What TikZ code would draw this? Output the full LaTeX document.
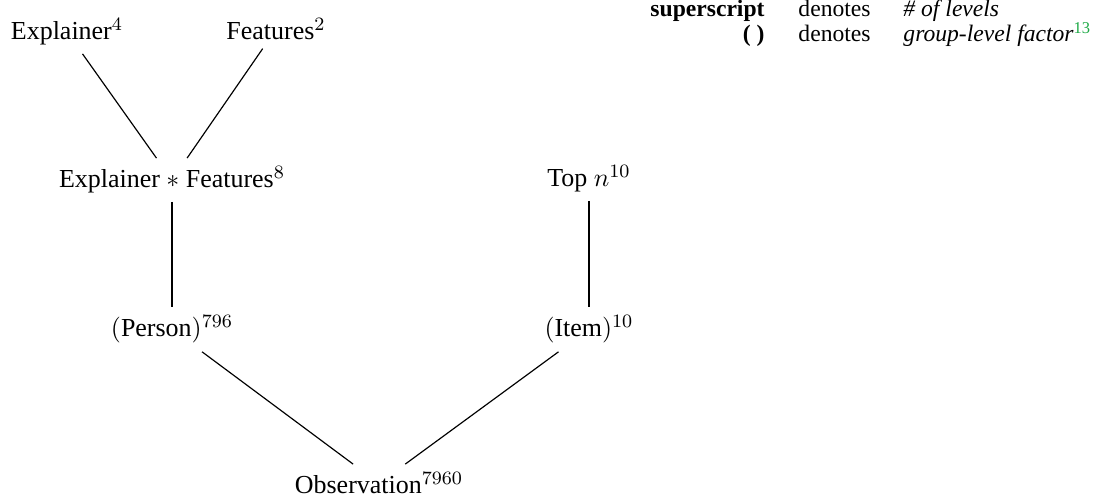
\documentclass[tikz,border=0pt]{standalone}
\usepackage[no-math]{fontspec}
\setmainfont{Liberation Serif}
\definecolor{reflink}{RGB}{30,170,70}
\begin{document}
\begin{tikzpicture}[x=0.4237pt,y=-0.4237pt,
  factor/.style={font=\fontsize{11pt}{13.6pt}\selectfont},
  legend/.style={font=\fontsize{10pt}{12pt}\selectfont,inner sep=0pt},
  link/.style={draw,line width=0.5pt}]
  \useasboundingbox (0,0) rectangle (1096,500);

  % factors of the design
  \node[factor,anchor=base] (ex)   at (67,40)   {Explainer$^{4}$};
  \node[factor,anchor=base] (fe)   at (276,40)  {Features$^{2}$};
  \node[factor,anchor=base] (ef)   at (172,188) {Explainer $*$ Features$^{8}$};
  \node[factor,anchor=base] (top)  at (589,187) {Top $n^{10}$};
  \node[factor,anchor=base] (per)  at (172,337) {$($Person$)^{796}$};
  \node[factor,anchor=base] (item) at (589,337) {$($Item$)^{10}$};
  \node[factor,anchor=base] (obs)  at (379,494) {Observation$^{7960}$};

  % nesting / crossing links
  \draw[link] (ex) -- (ef);
  \draw[link] (fe) -- (ef);
  \draw[link] (ef) -- (per);
  \draw[link] (top) -- (item);
  \draw[link] (per) -- (obs);
  \draw[link] (item) -- (obs);

  % key
  \node[legend,anchor=base east] (k1a) at (765,17) {\textbf{superscript}};
  \node[legend,anchor=base west] (k1b) at (798,17) {denotes};
  \node[legend,anchor=base west] (k1c) at (903,17) {\textit{\# of levels}};
  \node[legend,anchor=base east] (k2a) at (765,42) {\textbf{( )}};
  \node[legend,anchor=base west] (k2b) at (798,42) {denotes};
  \node[legend,anchor=base west] (k2c) at (903,42) {\textit{group-level factor}\textsuperscript{\color{reflink}13}};
\end{tikzpicture}
\end{document}
